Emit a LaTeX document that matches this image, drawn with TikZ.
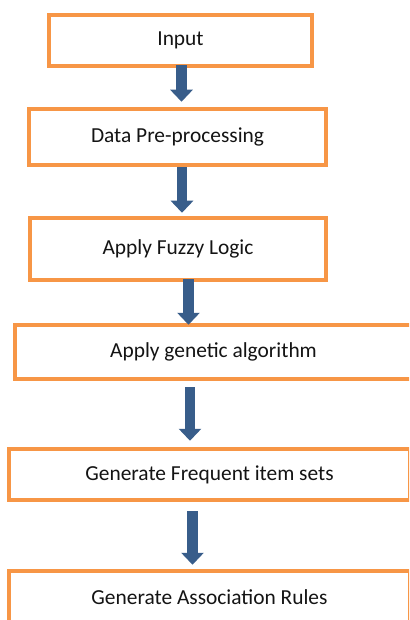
\documentclass[tikz,border=0pt]{standalone}
\usepackage{fontspec}
\setmainfont{Carlito}
\usetikzlibrary{arrows.meta}
\definecolor{boxorange}{RGB}{247,150,70}
\definecolor{arrowblue}{RGB}{56,93,138}
\tikzset{
  stepbox/.style={draw=boxorange, line width=4.5pt, fill=white, rectangle, inner sep=0pt,
    font=\fontsize{21.4}{24}\selectfont, text=black!92},
  flow/.style={draw=arrowblue, line width=10.5pt,
    -{Triangle[width=22pt,length=12pt]}, fill=arrowblue}
}
\begin{document}
\begin{tikzpicture}[x=1pt,y=-1pt]
\useasboundingbox (0,0) rectangle (409,620);
\clip (0,0) rectangle (409,620);
\fill[white] (0,0) rectangle (409,620);
\node[stepbox, minimum width=263pt, minimum height=51pt] (b1) at (180.5,40.5) {Input};
\node[stepbox, minimum width=297pt, minimum height=56pt] (b2) at (177.5,137) {Data Pre-processing};
\node[stepbox, minimum width=296pt, minimum height=62pt] (b3) at (178,249) {Apply Fuzzy Logic};
\node[stepbox, minimum width=397pt, minimum height=54pt] (b4) at (213.5,352) {Apply genetic algorithm};
\node[stepbox, minimum width=401pt, minimum height=51pt] (b5) at (209.5,474.5) {Generate Frequent item sets};
\node[stepbox, minimum width=401pt, minimum height=53pt] (b6) at (209.5,597.5) {Generate Association Rules};
\draw[flow] ([shift={(1,-3)}]b1.south) -- ([shift={(4,-5)}]b2.north);
\draw[flow] ([shift={(4.5,0)}]b2.south) -- ([shift={(4,-3)}]b3.north);
\draw[flow] ([shift={(10.5,-3)}]b3.south) -- ([shift={(-25,2)}]b4.north);
\draw[flow] ([shift={(-23.5,6)}]b4.south) -- ([shift={(-19.5,-6)}]b5.north);
\draw[flow] ([shift={(-17,9)}]b5.south) -- ([shift={(-17,-4)}]b6.north);
\end{tikzpicture}
\end{document}
